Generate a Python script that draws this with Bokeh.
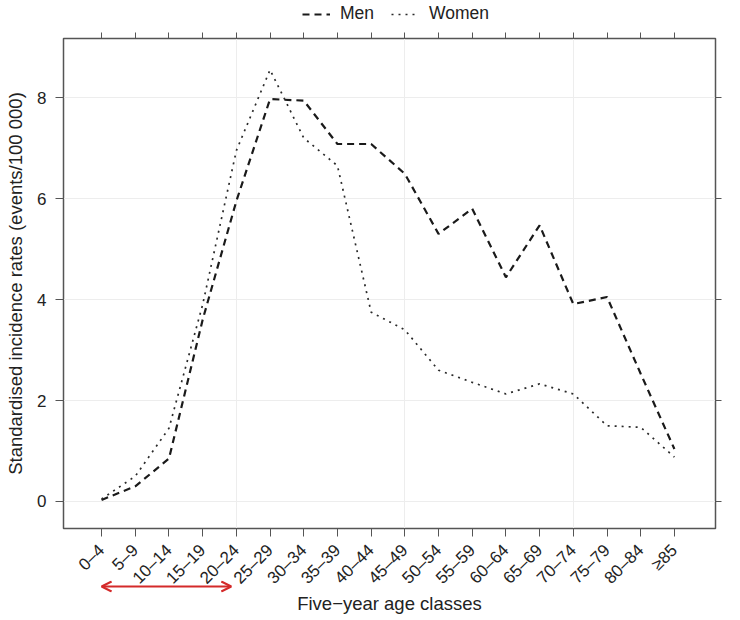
import numpy as np
from bokeh.plotting import figure
from bokeh.layouts import column
from bokeh.models import (FixedTicker, LinearAxis, Range1d, Legend, LegendItem,
                          Arrow, OpenHead)
from bokeh.embed import file_html
from bokeh.resources import INLINE

# ---- data ----
age_classes = ["0–4", "5–9", "10–14", "15–19", "20–24", "25–29", "30–34",
               "35–39", "40–44", "45–49", "50–54", "55–59", "60–64", "65–69",
               "70–74", "75–79", "80–84", "≥85"]
men = [0.03, 0.30, 0.85, 3.60, 5.95, 7.97, 7.94, 7.08, 7.08, 6.49, 5.30,
       5.80, 4.44, 5.47, 3.91, 4.05, 2.53, 1.04]
women = [0.05, 0.50, 1.45, 3.90, 6.95, 8.55, 7.20, 6.65, 3.75, 3.40, 2.60,
         2.36, 2.13, 2.33, 2.13, 1.50, 1.47, 0.88]
y_ticks = [0, 2, 4, 6, 8]
grid_classes = [4, 9, 14]          # vertical grid every fifth class
young_span = (0, 3.85)             # class-index span marked by the red arrow

FONT = "Liberation Sans"
INK = "#222222"
FRAME = "#555555"
RED = "#d42a2a"
W = 740
LEFT, RIGHT = 63, 25

men_style = dict(line_color="#1a1a1a", line_width=2.2, line_dash="7 5")
women_style = dict(line_color="#2a2a2a", line_width=1.7, line_dash="2 5")

x = list(range(len(age_classes)))
x_range = Range1d(-1.13, 18.22)

# ---------------- legend strip ----------------
leg = figure(width=W, height=30, output_backend="svg", toolbar_location=None,
             x_axis_location=None, y_axis_location=None,
             x_range=Range1d(0, 1), y_range=Range1d(0, 1),
             min_border_left=LEFT, min_border_right=RIGHT, min_border_top=0,
             min_border_bottom=0, outline_line_color=None)
leg.xgrid.visible = False
leg.ygrid.visible = False
# legend-key renderers (a single NaN point: nothing is drawn in the strip itself)
d_men = leg.line([np.nan], [np.nan], **men_style)
d_women = leg.line([np.nan], [np.nan], **women_style)
legend = Legend(items=[LegendItem(label="Men", renderers=[d_men]),
                       LegendItem(label="Women", renderers=[d_women])],
                orientation="horizontal", location=(239, 6),
                border_line_color=None, background_fill_alpha=0,
                label_text_font=FONT, label_text_font_size="17.5px",
                label_text_color=INK, glyph_width=28, glyph_height=20,
                label_standoff=10, spacing=17, padding=0, margin=0)
leg.add_layout(legend)

# ---------------- main chart ----------------
p = figure(width=W, height=568, output_backend="svg", toolbar_location=None,
           x_range=x_range, y_range=Range1d(-0.535, 9.17),
           min_border_left=LEFT, min_border_right=RIGHT, min_border_top=8,
           min_border_bottom=70)
p.outline_line_color = FRAME
p.outline_line_width = 1.5

p.line(x, men, **men_style)
p.line(x, women, **women_style)

xa = p.xaxis[0]
xa.ticker = FixedTicker(ticks=x)
xa.major_label_overrides = {i: lab for i, lab in enumerate(age_classes)}
xa.major_label_orientation = np.pi / 4
ya = p.yaxis[0]
ya.ticker = FixedTicker(ticks=y_ticks)
ya.axis_label = "Standardised incidence rates (events/100 000)"

for ax in (xa, ya):
    ax.axis_line_color = FRAME
    ax.major_tick_line_color = FRAME
    ax.major_tick_out = 8
    ax.major_tick_in = 0
    ax.minor_tick_line_color = None
    ax.major_label_text_font = FONT
    ax.major_label_text_font_size = "17px"
    ax.major_label_text_color = INK
    ax.axis_label_text_font = FONT
    ax.axis_label_text_font_size = "18.5px"
    ax.axis_label_text_font_style = "normal"
    ax.axis_label_text_color = INK
xa.major_label_standoff = 11
ya.major_label_standoff = 9
ya.axis_label_standoff = 8

top = LinearAxis(ticker=FixedTicker(ticks=x),
                 major_label_overrides={i: "" for i in x},
                 major_label_standoff=0, major_tick_out=6, major_tick_in=0,
                 minor_tick_line_color=None, axis_line_color=FRAME,
                 major_tick_line_color=FRAME)
right = LinearAxis(ticker=FixedTicker(ticks=y_ticks),
                   major_label_overrides={v: "" for v in y_ticks},
                   major_label_standoff=0, major_tick_out=6, major_tick_in=0,
                   minor_tick_line_color=None, axis_line_color=FRAME,
                   major_tick_line_color=FRAME)
p.add_layout(top, "above")
p.add_layout(right, "right")

p.xgrid.ticker = FixedTicker(ticks=grid_classes)
p.ygrid.ticker = FixedTicker(ticks=y_ticks)
p.xgrid.grid_line_color = "#ededed"
p.ygrid.grid_line_color = "#ededed"

# ---------------- arrow + x-axis title strip (overlaps the label band) ----------------
b = figure(width=W, height=36, output_backend="svg", toolbar_location=None,
           x_range=x_range, y_range=Range1d(0, 1), y_axis_location=None,
           min_border_left=LEFT, min_border_right=RIGHT, min_border_top=0,
           min_border_bottom=0, outline_line_color=None,
           styles={"margin-top": "-18px"})
b.background_fill_alpha = 0
b.border_fill_alpha = 0
b.xgrid.visible = False
b.ygrid.visible = False
bx = b.xaxis[0]
bx.ticker = FixedTicker(ticks=[])
bx.axis_line_color = None
bx.major_tick_line_color = None
bx.minor_tick_line_color = None
bx.major_label_standoff = 0
bx.axis_label = "Five\u2212year age classes"
bx.axis_label_standoff = 0
bx.axis_label_text_font = FONT
bx.axis_label_text_font_size = "18.5px"
bx.axis_label_text_font_style = "normal"
bx.axis_label_text_color = INK

arrow = Arrow(x_start=young_span[0], x_end=young_span[1], y_start=0.5, y_end=0.5,
              line_color=RED, line_width=2,
              start=OpenHead(size=10, line_color=RED, line_width=2),
              end=OpenHead(size=10, line_color=RED, line_width=2))
b.add_layout(arrow)

layout = column(leg, p, b, spacing=0)
open("out.html", "w").write(file_html(layout, INLINE))
